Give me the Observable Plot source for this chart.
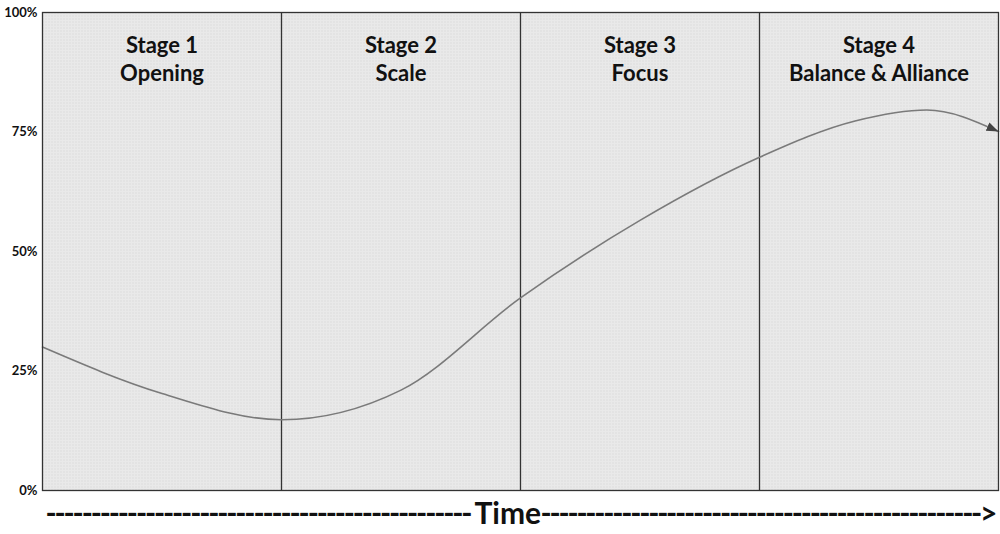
<!DOCTYPE html>
<html><head><meta charset="utf-8">
<script src="https://cdn.jsdelivr.net/npm/d3@7"></script>
<script src="https://cdn.jsdelivr.net/npm/@observablehq/plot@0.6"></script>
<style>body{margin:0;background:#fff;}</style>
</head><body><div id="chart"></div>
<script>
const time  = [0, 0.5, 1, 1.5, 2, 2.5, 3, 3.4, 3.7, 4];
const share = [30, 20.3, 14.8, 21, 40.3, 56.5, 69.7, 77.3, 79.6, 75.1];
const stageX = [0.5, 1.5, 2.5, 3.5];
const stageLabels = ["Stage 1\nOpening", "Stage 2\nScale", "Stage 3\nFocus", "Stage 4\nBalance & Alliance"];
const boundaries = [1, 2, 3];
const yTicks = [0, 25, 50, 75, 100];
const timeLeft = "-".repeat(47);
const timeWord = "Time";
const timeRight = "-".repeat(49) + ">";

const data = time.map((t, i) => ({t, v: share[i]}));

const plot = Plot.plot({
  width: 1000, height: 534,
  marginLeft: 42, marginRight: 2, marginTop: 12, marginBottom: 44,
  style: {fontFamily: "Lato, 'Open Sans', sans-serif", background: "#fff", color: "#111"},
  x: {domain: [0, 4], axis: null},
  y: {domain: [0, 100], axis: null},
  marks: [
    Plot.frame({fill: "url(#stipple)", stroke: "none"}),
    Plot.axisY({ticks: yTicks, tickFormat: d => d + "%", tickSize: 0, tickPadding: 5, fontSize: 13, fontWeight: "bold", label: null, fill: "#111"}),
    Plot.ruleX(boundaries, {stroke: "#333", strokeWidth: 1.3}),
    Plot.line(data, {x: "t", y: "v", curve: "monotone-x", stroke: "#7a7a7a", strokeWidth: 1.6, markerEnd: "arrow"}),
    Plot.frame({stroke: "#333", strokeWidth: 1.3}),
    Plot.text(stageX, {x: d => d, text: (d, i) => stageLabels[i], frameAnchor: "top", lineAnchor: "top", dy: 21, fontSize: 22, fontWeight: "bold", lineHeight: 1.27, fill: "#111"}),
    Plot.text([timeLeft], {frameAnchor: "bottom-left", textAnchor: "start", dx: 3, dy: 33, fontSize: 30, fontWeight: "bold", fill: "#111", className: "dash-left"}),
    Plot.text([timeWord], {frameAnchor: "bottom-left", textAnchor: "start", dx: 432, dy: 33, fontSize: 30, fontWeight: "bold", fill: "#111"}),
    Plot.text([timeRight], {frameAnchor: "bottom-left", textAnchor: "start", dx: 498, dy: 33, fontSize: 30, fontWeight: "bold", fill: "#111", className: "dash-right"})
  ]
});

const svg = d3.select(plot);
const defs = svg.insert("defs", ":first-child");
const pat = defs.append("pattern").attr("id", "stipple").attr("patternUnits", "userSpaceOnUse").attr("width", 3).attr("height", 3);
pat.append("rect").attr("width", 3).attr("height", 3).attr("fill", "#e9e9e9");
pat.append("rect").attr("width", 1).attr("height", 1).attr("fill", "#d2d2d2");

svg.selectAll("marker")
  .attr("viewBox", "-12 -6 12 12")
  .attr("markerWidth", 12).attr("markerHeight", 12)
  .attr("markerUnits", "userSpaceOnUse")
  .attr("fill", "#444").attr("stroke", "none");
svg.selectAll("marker path").attr("d", "M-12,-4.5L0,0L-12,4.5Z");

svg.selectAll(".dash-left text").attr("textLength", 427).attr("lengthAdjust", "spacing");
svg.selectAll(".dash-right text").attr("textLength", 457).attr("lengthAdjust", "spacing");

document.getElementById("chart").appendChild(plot);
</script>
</body></html>
